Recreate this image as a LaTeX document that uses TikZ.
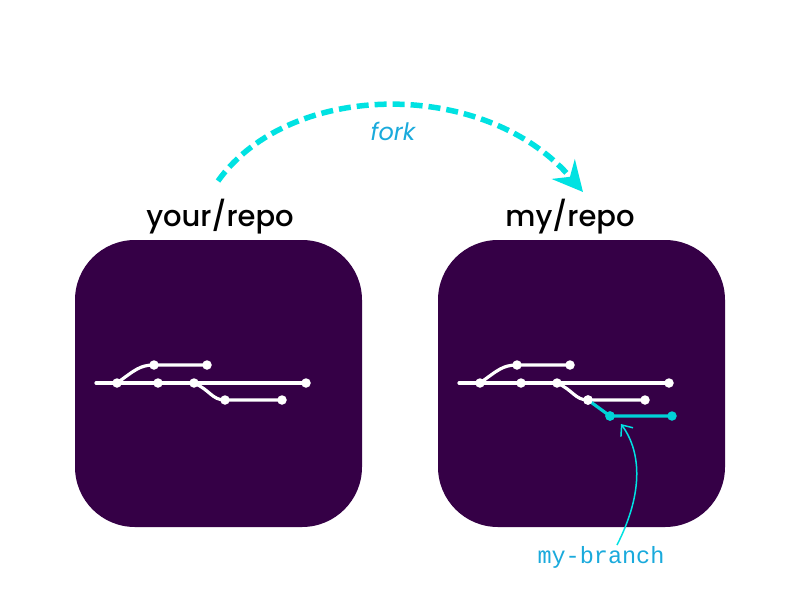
\documentclass[tikz,border=0pt]{standalone}
\usepackage{fontspec}
\setmainfont{Poppins}
\newfontfamily\titlefont{Poppins Medium}
\newfontfamily\monofont{Liberation Mono}
\usetikzlibrary{arrows.meta}
\definecolor{repopurple}{RGB}{53,0,70}
\definecolor{forkcyan}{RGB}{0,226,226}
\definecolor{labelblue}{RGB}{26,170,220}
\definecolor{branchcyan}{RGB}{0,210,215}
\tikzset{
  repobox/.style={fill=repopurple, rounded corners=60pt},
  title/.style={font=\titlefont\fontsize{29}{33}\selectfont, anchor=base, text=black, inner sep=0pt},
  track/.style={draw=white, line width=3.2pt, line cap=round},
  newtrack/.style={draw=branchcyan, line width=3.2pt, line cap=round},
  commit/.style={circle, fill=white, minimum size=9.5pt, inner sep=0pt},
  newcommit/.style={circle, fill=branchcyan, minimum size=9.5pt, inner sep=0pt},
  forkline/.style={draw=forkcyan, line width=5.5pt, dash pattern=on 12pt off 6pt, -{Stealth[length=30pt,width=30pt,inset=10pt]}},
  forklabel/.style={font=\itshape\fontsize{24}{28}\selectfont, text=labelblue},
  branchlabel/.style={font=\monofont\fontsize{23.5}{28}\selectfont, text=labelblue},
  pointer/.style={draw=forkcyan, line width=1.5pt, -{Straight Barb[length=9pt,width=15pt]}}
}
\begin{document}
\begin{tikzpicture}[x=1pt,y=-1pt]
\useasboundingbox (0,0) rectangle (800,600);
\fill[white] (0,0) rectangle (800,600);
% boxes
\path[repobox] (75,240) rectangle (362,527);
\path[repobox] (438,240) rectangle (725,527);
% titles
\node[title] (t1) at (220,226) {your/repo};
\node[title] (t2) at (570,226) {my/repo};
% left graph
\coordinate (l0) at (96,383);
\node[commit] (la) at (117,383) {};
\node[commit] (lb) at (158,383) {};
\node[commit] (lc) at (194,383) {};
\node[commit] (ld) at (306,383) {};
\node[commit] (lu1) at (154,365) {};
\node[commit] (lu2) at (207,365) {};
\node[commit] (ll1) at (225,400) {};
\node[commit] (ll2) at (282,400) {};
\draw[track] (l0) -- (ld.center);
\draw[track] (la.center) .. controls (135,370) and (140,365) .. (lu1.center) -- (lu2.center);
\draw[track] (lc.center) .. controls (210,390) and (212,400) .. (ll1.center) -- (ll2.center);
% right graph
\coordinate (r0) at (459,383);
\node[commit] (ra) at (480,383) {};
\node[commit] (rb) at (521,383) {};
\node[commit] (rc) at (557,383) {};
\node[commit] (rd) at (669,383) {};
\node[commit] (ru1) at (517,365) {};
\node[commit] (ru2) at (570,365) {};
\node[commit] (rl1) at (588,400) {};
\node[commit] (rl2) at (645,400) {};
\node[newcommit] (rn1) at (610,416) {};
\node[newcommit] (rn2) at (672,416) {};
\draw[track] (r0) -- (rd.center);
\draw[track] (ra.center) .. controls (498,370) and (503,365) .. (ru1.center) -- (ru2.center);
\draw[track] (rc.center) .. controls (573,390) and (575,400) .. (rl1.center) -- (rl2.center);
\draw[newtrack] (rl1.center) -- (rn1.center) -- (rn2.center);
\node[commit] at (rl1) {};
\node[newcommit] at (rn1) {};
% fork arrow
\coordinate (fs) at (218,181);
\coordinate (fe) at (583,192);
\draw[forkline] (fs) .. controls (290,80) and (485,78) .. (fe);
\node[forklabel] (fork) at (393,131) {fork};
% branch label
\node[branchlabel] (bl) at (601,557) {my-branch};
\coordinate (pt) at (621,424);
\draw[pointer] (617,545) .. controls (645,490) and (640,450) .. (pt);
\end{tikzpicture}
\end{document}
